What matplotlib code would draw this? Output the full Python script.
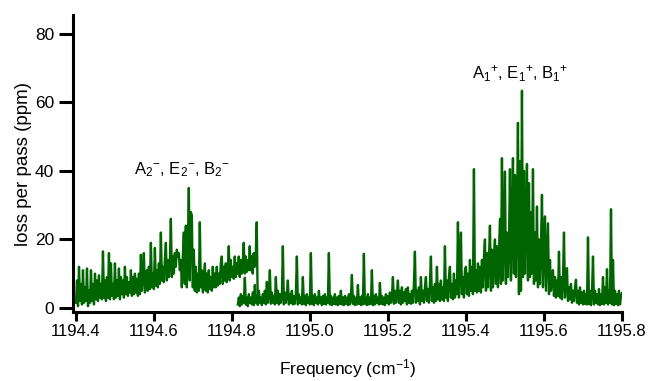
import numpy as np
import matplotlib
matplotlib.use("Agg")
import matplotlib.pyplot as plt

plt.rcParams['font.family'] = ['Liberation Sans', 'DejaVu Sans']
plt.rcParams['mathtext.fontset'] = 'custom'
plt.rcParams['mathtext.rm'] = 'Liberation Sans'
plt.rcParams['mathtext.it'] = 'Liberation Sans:italic'
plt.rcParams['mathtext.bf'] = 'Liberation Sans:bold'

# Scan 1: low-frequency window (cm^-1 range and loss values in ppm)
scan1_range = (1194.400, 1194.866)
scan1_loss = [
    1.5, 8, 0.5, 12, 2, 7, 1, 11, 1.5, 6,
    2, 11.5, 0.5, 5, 1.5, 11, 2, 7, 1, 10,
    2.5, 8, 2, 9.5, 3, 7, 2.5, 16.5, 3, 8,
    2, 9, 3, 16, 2.5, 13, 3.5, 7, 2.5, 13,
    3, 8, 3.5, 11.5, 2.5, 9, 4, 8, 3, 12,
    4, 9, 3.5, 7.5, 4.5, 11, 3.5, 9, 4, 10,
    4.5, 8.5, 3.5, 10, 4, 15.5, 5, 9, 16, 4.5,
    6, 11, 5, 12, 5.5, 19, 6, 10, 5.5, 17.5,
    6.5, 11, 6, 13, 7, 22, 8, 12, 7.5, 14,
    19, 8, 14, 9, 13, 26, 9, 15, 10, 16,
    12, 17, 15, 16, 11, 14, 6, 15, 22, 7,
    24, 6, 18, 35, 8, 28, 27, 6, 17, 5,
    12, 4.5, 10, 5, 25, 6, 11, 4.5, 9, 13,
    5, 10, 4.5, 11, 5.5, 9, 5, 12, 6, 10,
    6, 12, 6.5, 10, 7, 13, 15, 7, 12, 8,
    13, 7.5, 11, 18, 8, 14, 9, 12, 8.5, 15,
    9, 13, 10, 15, 9, 14, 10, 13, 19, 10,
    15, 10.5, 14, 11, 18, 11, 15, 10, 16, 12,
    15, 25, 1,
]

# Scan 2: high-frequency window
scan2_range = (1194.815, 1195.800)
scan2_loss = [
    1, 3, 0.5, 4, 1, 3.5, 1.5, 8.8, 1, 3,
    0.5, 4, 1.5, 3, 1, 4.5, 0.8, 6.7, 1.5, 3.5,
    1, 5, 1.5, 3, 0.8, 4, 1.5, 5, 1, 7.6,
    1.5, 4, 11, 1.2, 4.5, 1.5, 3.5, 1, 9, 1.5,
    5, 1, 4, 1.5, 3, 18, 1, 4.5, 1.5, 3.5,
    8, 1, 4, 1.5, 5, 1, 3.5, 1.2, 4, 15,
    1, 4, 1.5, 3, 1, 9, 1.2, 3.5, 0.8, 4,
    1.5, 3, 1, 16, 1.2, 3.5, 0.8, 4, 1.5, 3,
    1, 5, 1.5, 3, 0.8, 3.5, 1.2, 4, 1, 3,
    1.5, 16, 1, 3.5, 0.8, 3, 1.2, 4, 1, 3,
    0.8, 3.5, 1.2, 5, 1, 3, 0.8, 3.5, 1.2, 3,
    0.8, 4, 1, 3, 9.6, 1.2, 3.5, 0.8, 3, 1,
    6.7, 1.2, 3, 0.8, 3.5, 1, 15.8, 1.2, 3, 0.8,
    4, 1, 3, 1.2, 11, 0.8, 3.5, 1, 4, 1.5,
    3, 1, 7.3, 1.2, 3.5, 1, 3, 0.8, 4, 1.5,
    3.5, 1, 4.5, 1.5, 3, 9, 1.2, 5, 1.5, 4,
    8, 1.5, 5, 1, 6, 1.5, 4.5, 2, 5.5, 1,
    6, 1.5, 4, 1.2, 5, 1.5, 7, 16.4, 1.5, 5,
    2, 6, 1, 9, 2, 5, 1.5, 6, 9, 2,
    5.5, 1.5, 7, 15, 2, 6, 1.5, 7, 2, 12,
    2.5, 7, 2, 8, 2.5, 6, 2, 18, 3, 8,
    2, 9, 12, 3, 7, 2.5, 10, 3, 8, 4,
    25, 3, 10, 22, 4, 9, 3, 11, 12, 4,
    10, 3.5, 14, 5, 12, 4, 40.5, 5, 11, 4.5,
    13, 5, 12, 4.5, 14, 6, 15, 20, 5, 16,
    6, 14, 24, 5, 17, 6, 15, 20, 7, 18,
    6, 16, 26, 7, 43.7, 8, 20, 39.8, 7, 22,
    9, 18, 40.5, 8, 24, 43.7, 10, 38.8, 9, 25,
    54, 4, 42.8, 5, 63.4, 9, 40, 10, 25, 42,
    8, 36.4, 9, 28, 10, 40.5, 7, 22, 8, 29.6,
    6, 20, 7, 18, 33, 6, 17, 26.7, 5, 15,
    24.7, 4, 14, 5, 10, 11, 3.5, 9, 3, 8,
    3.5, 16.4, 3, 9, 2.5, 8, 22, 3, 7, 11.6,
    2, 6, 2.5, 7, 1.5, 5, 2, 6, 8.2, 1.5,
    5, 1, 6, 1.5, 4.5, 1, 5, 1.2, 4, 1,
    20.6, 1.2, 5, 0.8, 4, 15, 1, 5, 1.5, 4,
    1, 5.5, 0.8, 4, 1.2, 9, 1, 6, 1.5, 11.3,
    1, 5, 1.5, 28.8, 1, 14, 0.8, 5, 1.2, 4,
    0.8, 5, 1, 3.5, 4.3,
]

band_labels = [r"A$_2$$^{-}$, E$_2$$^{-}$, B$_2$$^{-}$",
               r"A$_1$$^{+}$, E$_1$$^{+}$, B$_1$$^{+}$"]
band_label_pos = [(1194.672, 40.5), (1195.538, 68.5)]

x_ticks = [1194.4, 1194.6, 1194.8, 1195.0, 1195.2, 1195.4, 1195.6, 1195.8]
y_ticks = [0, 20, 40, 60, 80]

line_color = "#006400"

freq1 = np.linspace(scan1_range[0], scan1_range[1], len(scan1_loss))
freq2 = np.linspace(scan2_range[0], scan2_range[1], len(scan2_loss))

fig = plt.figure(figsize=(6.53, 3.81), dpi=100)
ax = fig.add_axes([73 / 653, (381 - 312) / 381, (622 - 73) / 653, (312 - 15) / 381])

ax.plot(freq1, scan1_loss, color=line_color, lw=1.7)
ax.plot(freq2, scan2_loss, color=line_color, lw=1.7)

ax.set_xlim(1194.4 - 3 / 390, 1195.8)
ax.set_ylim(-1.2, 85.5)
ax.set_xticks(x_ticks)
ax.set_xticklabels([f"{t:.1f}" for t in x_ticks])
ax.set_yticks(y_ticks)

for s in ("top", "right"):
    ax.spines[s].set_visible(False)
for s in ("left", "bottom"):
    ax.spines[s].set_linewidth(2.2)
ax.tick_params(axis="x", direction="out", length=6.5, width=2.2, labelsize=12, pad=2)
ax.tick_params(axis="y", direction="out", length=10, width=2.2, labelsize=12.5, pad=3.5)

ax.set_xlabel(r"Frequency (cm$^{-1}$)", fontsize=12.5, labelpad=13)
ax.set_ylabel("loss per pass (ppm)", fontsize=13.5, labelpad=2)

for txt, (x, y) in zip(band_labels, band_label_pos):
    ax.text(x, y, txt, fontsize=12, ha="center", va="center")

fig.savefig("out.png", dpi=100)
